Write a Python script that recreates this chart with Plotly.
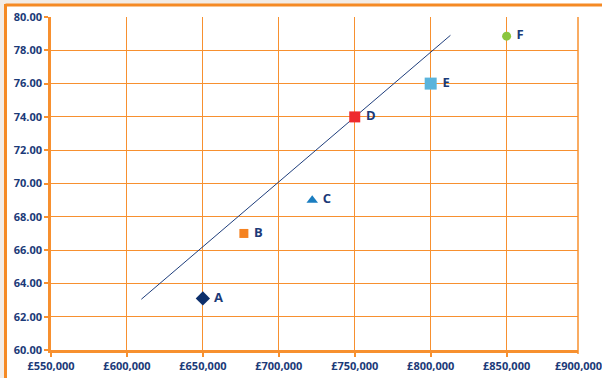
import plotly.graph_objects as go

labels = ["A", "B", "C", "D", "E", "F"]
prices = [650000, 677000, 722000, 750000, 800000, 850000]
scores = [63.1, 67.0, 69.0, 74.0, 76.0, 78.85]
symbols = ["diamond", "square", "triangle-up", "square", "square", "circle"]
colors = ["#0D2F6B", "#F58220", "#1A7DC0", "#EE2A2E", "#5AB4DC", "#8CC63F"]
sizes = [11, 9, 10, 11, 12, 9]

trend_x = [609500, 813000]
trend_y = [63.05, 78.9]

x_ticks = [550000, 600000, 650000, 700000, 750000, 800000, 850000]
x_last_label = "£900,000"
x_range = [550000, 897000]
y_ticks = [60, 62, 64, 66, 68, 70, 72, 74, 76, 78, 80]

navy = "#1B3A78"
orange = "#F7902F"
font_family = "Open Sans"

fig = go.Figure()
fig.add_trace(go.Scatter(x=trend_x, y=trend_y, mode="lines",
                         line=dict(color="#1F3E7C", width=1), hoverinfo="skip",
                         showlegend=False))
for lab, px, sc, sym, col, sz in zip(labels, prices, scores, symbols, colors, sizes):
    fig.add_trace(go.Scatter(
        x=[px], y=[sc], mode="markers+text", text=[" " + lab],
        textposition="middle right",
        textfont=dict(family=font_family, size=13, color=navy, weight="bold"),
        marker=dict(symbol=sym, color=col, size=sz, line=dict(width=0)),
        showlegend=False, cliponaxis=False))

tick_font = dict(family=font_family, size=11, color=navy, weight="bold")
axis_common = dict(showgrid=True, gridcolor=orange, gridwidth=1.2,
                   showline=True, linecolor=orange, linewidth=2.5,
                   ticks="outside", ticklen=4, tickcolor=orange, tickwidth=1.5,
                   zeroline=False, automargin=False, tickfont=tick_font)

fig.update_xaxes(range=x_range, tickvals=x_ticks,
                 ticktext=["£{:,}".format(v) for v in x_ticks], **axis_common)
fig.update_yaxes(range=[60, 80], tickvals=y_ticks,
                 ticktext=["{:.2f}".format(v) for v in y_ticks], **axis_common)

W, H = 602, 378
l, r, t, b = 51, 24, 17, 28
pw, ph = W - l - r, H - t - b

def px2x(p):
    return (p - l) / pw

def py2y(p):
    return (H - b - p) / ph

shapes = [
    # beige corner strip
    dict(type="rect", xref="paper", yref="paper", x0=px2x(0), x1=px2x(380), y0=py2y(4), y1=py2y(0),
         fillcolor="#F3ECE6", line=dict(width=0), layer="below"),
    dict(type="rect", xref="paper", yref="paper", x0=px2x(0), x1=px2x(4), y0=py2y(378), y1=py2y(0),
         fillcolor="#F3ECE6", line=dict(width=0), layer="below"),
    # frame lines
    dict(type="line", xref="paper", yref="paper", x0=px2x(5.5), x1=px2x(602), y0=py2y(5), y1=py2y(5),
         line=dict(color="#F58A24", width=3)),
    dict(type="line", xref="paper", yref="paper", x0=px2x(5.5), x1=px2x(5.5), y0=py2y(378), y1=py2y(4),
         line=dict(color="#F58A24", width=3)),
    # right edge gridline of plot area
    dict(type="line", xref="paper", yref="paper", x0=1, x1=1, y0=py2y(354), y1=1,
         line=dict(color=orange, width=1.5)),
]

annotations = [
    dict(text=x_last_label, xref="paper", yref="paper", x=1, y=py2y(365),
         xanchor="center", yanchor="middle", showarrow=False, font=tick_font),
]

fig.update_layout(width=W, height=H, margin=dict(l=l, r=r, t=t, b=b, autoexpand=False),
                  plot_bgcolor="white", paper_bgcolor="white",
                  shapes=shapes, annotations=annotations, showlegend=False)

fig.write_html("out.html")
